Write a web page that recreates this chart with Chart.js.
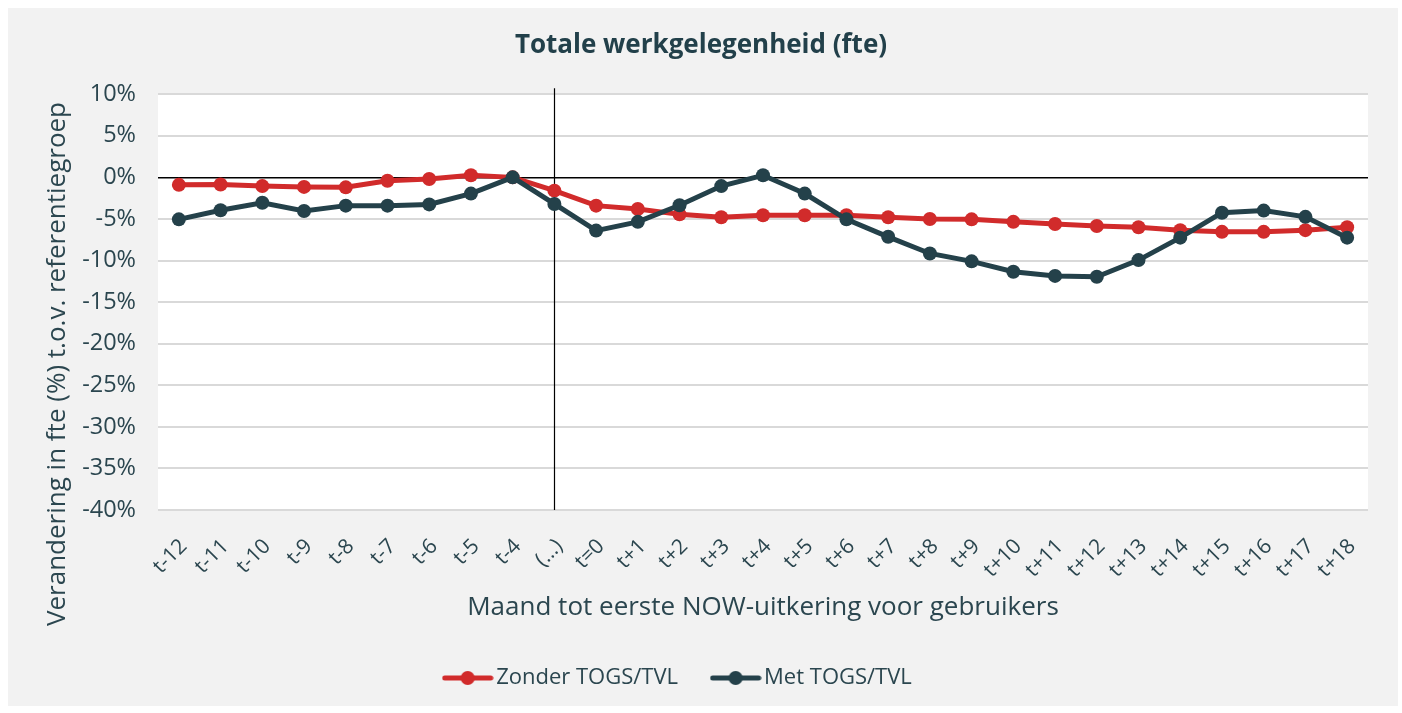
<!DOCTYPE html>
<html>
<head>
<meta charset="utf-8">
<script src="https://cdn.jsdelivr.net/npm/chart.js@4.4.1/dist/chart.umd.min.js"></script>
<style>
  html, body { margin: 0; padding: 0; background: #ffffff; }
  #wrap { position: absolute; left: 8px; top: 8px; width: 1390px; height: 698px; background: #f2f2f2; }
  canvas { display: block; }
</style>
</head>
<body>
<div id="wrap"><canvas id="c"></canvas></div>
<script>
// Months relative to the first NOW payment
const categories = [
  't-12', 't-11', 't-10', 't-9', 't-8', 't-7', 't-6', 't-5', 't-4', '(\u2026)',
  't=0', 't+1', 't+2', 't+3', 't+4', 't+5', 't+6', 't+7', 't+8', 't+9',
  't+10', 't+11', 't+12', 't+13', 't+14', 't+15', 't+16', 't+17', 't+18'
];

// Change in fte (%) relative to the reference group
const zonderTogsTvl = [
  -0.9, -0.85, -1.05, -1.15, -1.2, -0.4, -0.2, 0.25, 0.0, -1.6,
  -3.4, -3.8, -4.45, -4.8, -4.55, -4.55, -4.55, -4.8, -5.0, -5.05,
  -5.35, -5.6, -5.85, -6.0, -6.35, -6.55, -6.55, -6.35, -6.0
];
const metTogsTvl = [
  -5.05, -3.95, -3.05, -4.05, -3.4, -3.4, -3.25, -1.95, 0.0, -3.2,
  -6.4, -5.35, -3.35, -1.05, 0.25, -1.95, -5.05, -7.15, -9.15, -10.1,
  -11.35, -11.85, -11.95, -9.95, -7.25, -4.25, -4.0, -4.75, -7.25
];

const seriesNames = ['Zonder TOGS/TVL', 'Met TOGS/TVL'];
const yMin = -40, yMax = 10, yStep = 5;
const dividerLabel = '(\u2026)';

const RED = '#d12b2b';
const DARK = '#24414a';
const TEXT = '#2b464f';
const FONT = '"Open Sans", Lato, sans-serif';

// Plot area edges inside the canvas
const PLOT_LEFT = 150, PLOT_BOTTOM = 502;
const LEGEND_SHIFT = -20;

// Legend symbol: a short line with a dot in the middle
function legendSymbol(color) {
  const cv = document.createElement('canvas');
  cv.width = 52; cv.height = 16;
  const g = cv.getContext('2d');
  g.strokeStyle = color; g.lineWidth = 5; g.lineCap = 'round';
  g.beginPath(); g.moveTo(3, 8); g.lineTo(49, 8); g.stroke();
  g.fillStyle = color;
  g.beginPath(); g.arc(26, 8, 7, 0, Math.PI * 2); g.fill();
  return cv;
}
const symbols = [legendSymbol(RED), legendSymbol(DARK)];

// White plot background, vertical divider, rotated y-axis title, legend nudge
const decorations = {
  id: 'decorations',
  afterLayout(chart) {
    if (chart.legend) {
      chart.legend.left += LEGEND_SHIFT;
      chart.legend.right += LEGEND_SHIFT;
    }
  },
  beforeDraw(chart) {
    const { ctx, chartArea: a } = chart;
    ctx.save();
    ctx.fillStyle = '#ffffff';
    ctx.fillRect(a.left, a.top, a.right - a.left, a.bottom - a.top);
    ctx.restore();
  },
  beforeDatasetsDraw(chart) {
    const { ctx, chartArea: a, scales } = chart;
    const x = Math.round(scales.x.getPixelForValue(categories.indexOf(dividerLabel))) + 0.5;
    ctx.save();
    ctx.strokeStyle = '#000000';
    ctx.lineWidth = 1.2;
    ctx.beginPath();
    ctx.moveTo(x, a.top - 6);
    ctx.lineTo(x, a.bottom);
    ctx.stroke();
    ctx.restore();
  },
  afterDraw(chart) {
    const { ctx } = chart;
    ctx.save();
    ctx.translate(50, 356);
    ctx.rotate(-Math.PI / 2);
    ctx.font = '26px ' + FONT;
    ctx.fillStyle = TEXT;
    ctx.textAlign = 'center';
    ctx.textBaseline = 'middle';
    ctx.fillText('Verandering in fte (%) t.o.v. referentiegroep', 0, 0);
    ctx.restore();
  }
};

new Chart(document.getElementById('c'), {
  type: 'line',
  data: {
    labels: categories,
    datasets: [
      {
        label: seriesNames[0], data: zonderTogsTvl, order: 1,
        borderColor: RED, backgroundColor: RED, borderWidth: 5,
        pointRadius: 7, pointHoverRadius: 7, pointBorderWidth: 0,
        pointBackgroundColor: RED, tension: 0
      },
      {
        label: seriesNames[1], data: metTogsTvl, order: 0,
        borderColor: DARK, backgroundColor: DARK, borderWidth: 5,
        pointRadius: 7, pointHoverRadius: 7, pointBorderWidth: 0,
        pointBackgroundColor: DARK, tension: 0
      }
    ]
  },
  options: {
    responsive: true,
    maintainAspectRatio: false,
    animation: false,
    layout: { padding: { left: 0, right: 4, top: 0, bottom: 7 } },
    plugins: {
      title: {
        display: true,
        text: 'Totale werkgelegenheid (fte)',
        color: '#22404a',
        font: { family: FONT, size: 26, weight: 'bold' },
        padding: { top: 22, bottom: 33 }
      },
      legend: {
        position: 'bottom',
        labels: {
          usePointStyle: true,
          pointStyleWidth: 35,
          padding: 40,
          color: TEXT,
          font: { family: FONT, size: 22 },
          generateLabels(chart) {
            const items = Chart.defaults.plugins.legend.labels.generateLabels(chart);
            items.sort((a, b) => a.datasetIndex - b.datasetIndex);
            items.forEach(it => { it.pointStyle = symbols[it.datasetIndex]; });
            return items;
          }
        }
      },
      tooltip: { enabled: false }
    },
    scales: {
      x: {
        offset: true,
        grid: { display: false, drawTicks: false },
        border: { display: false },
        ticks: {
          color: TEXT, font: { family: FONT, size: 21 },
          minRotation: 45, maxRotation: 45, padding: 24, labelOffset: 5, autoSkip: false
        },
        title: {
          display: true, text: 'Maand tot eerste NOW-uitkering voor gebruikers',
          color: TEXT, font: { family: FONT, size: 26 },
          padding: { top: 0, bottom: 4 }
        },
        afterFit(scale) {
          const ch = scale.chart;
          const legendH = ch.legend ? ch.legend.height : 0;
          scale.height = ch.height - ch.options.layout.padding.bottom - legendH - PLOT_BOTTOM;
        }
      },
      y: {
        min: yMin, max: yMax,
        grid: {
          drawTicks: false,
          color: ctx => (ctx.tick && ctx.tick.value === 0 ? '#000000' : '#d9d9d9'),
          lineWidth: ctx => (ctx.tick && ctx.tick.value === 0 ? 1.6 : 2)
        },
        border: { display: false },
        ticks: {
          stepSize: yStep, padding: 22, color: TEXT,
          font: { family: FONT, size: 23.5 },
          callback: v => v + '%'
        },
        afterFit(scale) { scale.width = PLOT_LEFT; }
      },
      yPad: {
        position: 'right',
        grid: { display: false, drawTicks: false },
        border: { display: false },
        ticks: { display: false },
        afterFit(scale) { scale.width = 26; }
      }
    }
  },
  plugins: [decorations]
});
</script>
</body>
</html>
